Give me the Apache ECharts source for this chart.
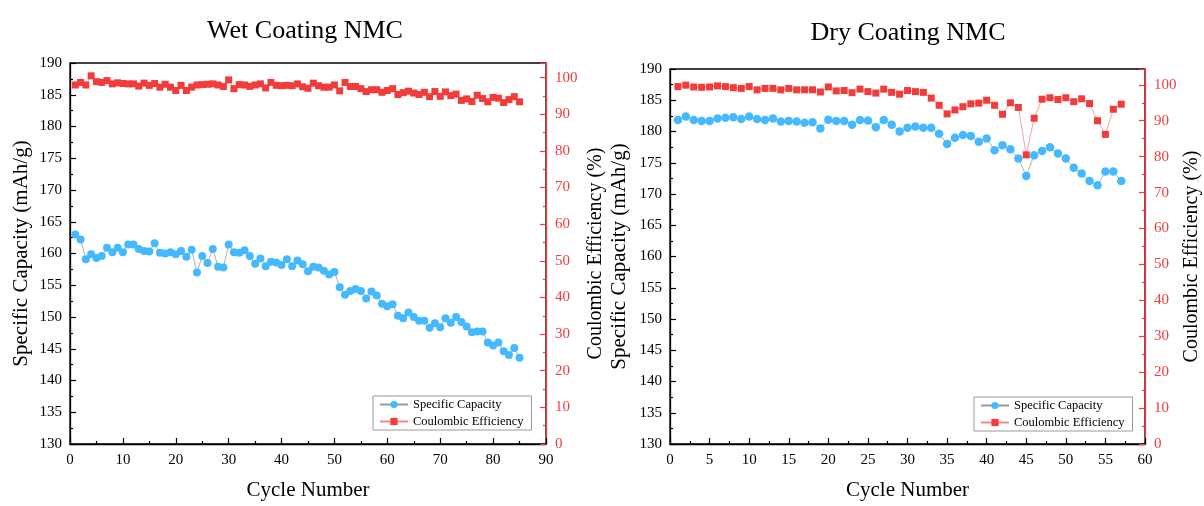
<!DOCTYPE html>
<html><head><meta charset="utf-8">
<script src="https://cdn.jsdelivr.net/npm/echarts@6/dist/echarts.min.js"></script>
<style>html,body{margin:0;padding:0;background:#fff}#c{width:1204px;height:506px}</style>
</head><body><div id="c"></div>
<script>
// Wet coating (left)
const wetCapacity = [163.0,162.2,159.1,159.9,159.3,159.6,160.9,160.2,160.9,160.2,
161.4,161.4,160.7,160.4,160.3,161.6,160.1,160.0,160.2,159.9,
160.4,159.5,160.6,157.0,159.6,158.5,160.7,157.9,157.8,161.4,
160.2,160.1,160.5,159.6,158.4,159.2,158.0,158.7,158.6,158.2,
159.1,158.0,158.9,158.3,157.2,157.9,157.8,157.3,156.7,157.1,
154.7,153.5,154.1,154.4,154.1,152.9,154.0,153.4,152.1,151.7,
152.0,150.2,149.8,150.7,150.0,149.4,149.4,148.3,149.0,148.4,
149.8,149.1,150.0,149.2,148.5,147.6,147.7,147.7,146.0,145.5,
146.0,144.6,144.0,145.1,143.6];
const wetCE = [98.0,98.7,98.0,100.5,98.9,98.7,99.2,98.3,98.6,98.4,
98.3,98.3,97.7,98.5,97.9,98.4,97.4,98.2,97.4,96.5,
97.9,96.5,97.4,98.0,98.1,98.2,98.3,98.0,97.6,99.4,
97.0,98.1,98.0,97.6,98.0,98.3,97.2,98.7,97.9,97.8,
97.9,97.8,98.3,97.5,97.1,98.5,97.8,97.4,97.4,98.0,
96.4,98.7,97.6,97.6,97.0,96.2,96.7,96.7,96.0,96.5,
97.0,95.4,95.9,96.3,95.8,95.4,96.0,94.8,96.2,94.9,
96.1,95.1,95.5,93.8,94.2,93.5,95.2,94.3,93.4,94.6,
94.4,93.2,94.0,94.8,93.4];
// Dry coating (right)
const dryCapacity = [181.85,182.4,181.85,181.7,181.7,182.1,182.2,182.3,182.0,182.4,
182.0,181.85,182.1,181.6,181.7,181.6,181.4,181.5,180.5,181.9,
181.7,181.7,181.1,181.85,181.75,180.7,181.85,181.1,180.0,180.6,
180.8,180.6,180.6,179.65,178.0,179.0,179.45,179.3,178.35,178.9,
177.0,177.8,177.15,175.7,172.9,176.2,176.9,177.5,176.5,175.7,
174.2,173.3,172.1,171.4,173.6,173.6,172.1];
const dryCE = [99.5,99.9,99.4,99.3,99.4,99.7,99.5,99.2,99.0,99.5,
98.6,99.0,99.0,98.6,99.0,98.6,98.6,98.6,98.0,99.4,
98.3,98.4,97.8,98.8,98.1,97.7,98.8,97.9,97.4,98.4,
98.1,97.9,96.3,94.3,91.9,93.0,93.9,94.7,94.9,95.7,
94.3,91.8,95.0,93.7,80.5,90.7,96.0,96.4,95.9,96.4,
95.3,96.1,94.8,90.0,86.2,93.2,94.6];
const titles = ['Wet Coating NMC','Dry Coating NMC'];
const seriesNames = ['Specific Capacity','Coulombic Efficiency'];
const xName = 'Cycle Number';
const yNameCap = 'Specific Capacity (mAh/g)';
const yNameCE = 'Coulombic Efficiency (%)';

const F = "'Liberation Serif','Times New Roman',serif";
const BLUE = '#45b9ff', RED = '#f23b3b';
const pairs = a => a.map((v,i)=>[i+1,v]);

function xAx(grid, max, interval){
  return {gridIndex:grid,type:'value',min:0,max:max,interval:interval,
    name:xName,nameLocation:'middle',nameGap:36,
    nameTextStyle:{fontFamily:F,fontSize:21,color:'#000'},
    axisLine:{onZero:false,lineStyle:{color:'#000',width:1.3}},
    axisTick:{inside:true,length:6,lineStyle:{color:'#000',width:1.2}},
    minorTick:{show:true,splitNumber:2,length:3,lineStyle:{color:'#000',width:1.2}},
    axisLabel:{fontFamily:F,fontSize:15,color:'#000',margin:9},
    splitLine:{show:false}};
}
function yCap(grid, gap){
  return {gridIndex:grid,type:'value',min:130,max:190,interval:5,position:'left',
    name:yNameCap,nameLocation:'middle',nameGap:gap,nameRotate:90,
    nameTextStyle:{fontFamily:F,fontSize:21,color:'#000'},
    axisLine:{show:true,onZero:false,lineStyle:{color:'#000',width:1.3}},
    axisTick:{show:true,inside:true,length:6,lineStyle:{color:'#000',width:1.2}},
    minorTick:{show:true,splitNumber:2,length:3,lineStyle:{color:'#000',width:1.2}},
    axisLabel:{fontFamily:F,fontSize:15,color:'#000',margin:8},
    splitLine:{show:false}};
}
function yCE(grid, max, gap){
  return {gridIndex:grid,type:'value',min:0,max:max,interval:10,position:'right',
    name:yNameCE,nameLocation:'middle',nameGap:gap,nameRotate:90,
    nameTextStyle:{fontFamily:F,fontSize:20,color:'#000'},
    axisLine:{show:true,onZero:false,lineStyle:{color:RED,width:1.3}},
    axisTick:{show:true,inside:true,length:6,lineStyle:{color:RED,width:1.2}},
    minorTick:{show:true,splitNumber:2,length:3,lineStyle:{color:RED,width:1.2}},
    axisLabel:{fontFamily:F,fontSize:15,color:RED,margin:9,showMaxLabel:false},
    splitLine:{show:false}};
}
function capSeries(grid, data, size){
  return {name:seriesNames[0],type:'line',xAxisIndex:grid,yAxisIndex:grid*2,data:pairs(data),
    symbol:'circle',symbolSize:size,itemStyle:{color:BLUE},
    lineStyle:{color:'#9a9a9a',width:0.8},z:3};
}
function ceSeries(grid, data){
  return {name:seriesNames[1],type:'line',xAxisIndex:grid,yAxisIndex:grid*2+1,data:pairs(data),
    symbol:'rect',symbolSize:7,itemStyle:{color:RED},
    lineStyle:{color:'#f58a8a',width:0.8},z:2};
}
function legend(left, top){
  return {left:left,top:top,orient:'vertical',data:seriesNames,
    backgroundColor:'#fff',borderColor:'#999',borderWidth:1,padding:[2,8,2,6],
    itemWidth:28,itemHeight:9,itemGap:4,
    textStyle:{fontFamily:F,fontSize:12.5,color:'#000'}};
}
const chart = echarts.init(document.getElementById('c'),null,{renderer:'canvas'});
chart.setOption({
  animation:false,
  title:[
    {text:titles[0],left:300,top:13,textAlign:'center',textStyle:{fontFamily:F,fontSize:26,fontWeight:'normal',color:'#000'}},
    {text:titles[1],left:903,top:15,textAlign:'center',textStyle:{fontFamily:F,fontSize:26,fontWeight:'normal',color:'#000'}}
  ],
  grid:[
    {left:70,top:63,width:476,height:385,show:true,borderColor:'#000',borderWidth:1.3,backgroundColor:'transparent'},
    {left:670,top:69,width:475,height:383,show:true,borderColor:'#000',borderWidth:1.3,backgroundColor:'transparent'}
  ],
  legend:[legend(373,396),legend(974,397)],
  xAxis:[xAx(0,90,10),xAx(1,60,5)],
  yAxis:[yCap(0,38),yCE(0,104,39.5),yCap(1,40),yCE(1,104.4,36.5)],
  series:[capSeries(0,wetCapacity,8),ceSeries(0,wetCE),capSeries(1,dryCapacity,8.5),ceSeries(1,dryCE)]
});
</script></body></html>
